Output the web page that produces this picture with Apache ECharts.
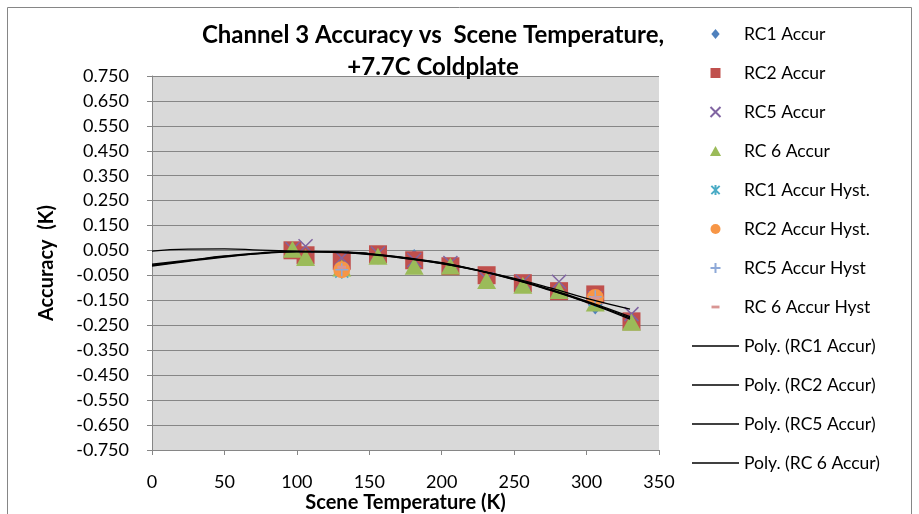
<!DOCTYPE html>
<html>
<head>
<meta charset="utf-8">
<script src="https://cdn.jsdelivr.net/npm/echarts@6/dist/echarts.min.js"></script>
<style>html,body{margin:0;padding:0;background:#fff;overflow:hidden;}#c{width:919px;height:514px;}</style>
</head>
<body>
<div id="c"></div>
<script>
// ---- data ----
const yTickMin = -0.75, yTickMax = 0.75, yTickStep = 0.1;
const xTickMin = 0, xTickMax = 350, xTickStep = 50;

const rc1Accur = [[97,0.050],[106,0.030],[131,0.010],[156,0.020],[181,0.030],[206,-0.010],[231,-0.050],[256,-0.080],[281,-0.110],[306,-0.180],[331,-0.230]];
const rc2Accur = [[97,0.051],[106,0.031],[131,0.009],[156,0.035],[181,0.011],[206,-0.013],[231,-0.049],[256,-0.081],[281,-0.113],[306,-0.126],[331,-0.234]];
const rc5Accur = [[97,0.055],[106,0.067],[131,0.020],[156,0.038],[181,0.012],[206,0.000],[231,-0.065],[256,-0.075],[281,-0.075],[306,-0.140],[331,-0.205]];
const rc6Accur = [[97,0.055],[106,0.022],[131,-0.020],[156,0.027],[181,-0.013],[206,-0.012],[231,-0.070],[256,-0.089],[281,-0.110],[306,-0.160],[331,-0.238]];
const rc1Hyst = [[131,-0.037],[306,-0.150]];
const rc2Hyst = [[131,-0.027],[306,-0.138]];
const rc5Hyst = [[131,-0.027],[306,-0.135]];
const rc6Hyst = [[131,-0.017],[306,-0.140]];

const trendX = [0,25,50,75,100,125,150,175,200,225,250,275,300,330];
const trendRC1 = [-0.005,0.011,0.028,0.041,0.047,0.046,0.038,0.021,0.001,-0.029,-0.064,-0.106,-0.153,-0.215];
const trendRC2 = [-0.009,0.009,0.026,0.039,0.046,0.045,0.037,0.020,0.000,-0.030,-0.066,-0.108,-0.156,-0.220];
const trendRC5 = [0.048,0.056,0.057,0.052,0.048,0.043,0.034,0.018,-0.002,-0.030,-0.062,-0.100,-0.142,-0.185];
const trendRC6 = [-0.012,0.007,0.024,0.038,0.045,0.044,0.036,0.019,-0.002,-0.031,-0.067,-0.110,-0.158,-0.225];

const FONT = 'Lato';
const pair = (xs, ys) => xs.map((x, i) => [x, ys[i]]);

const DIAMOND = 'path://M5,0L10,6L5,12L0,6Z';
const SQUARE = 'path://M0,0H10V10H0Z';
const TRIANGLE = 'path://M5,0L10,9L0,9Z';
const CIRCLE = 'path://M10,5A5,5,0,1,1,0,5A5,5,0,1,1,10,5Z';
const X_PATH = 'path://M0,0L10,10M10,0L0,10';
const STAR_PATH = 'path://M0,0L10,10M10,0L0,10M5,-1L5,11';
const PLUS_PATH = 'path://M5,0L5,10M0,5L10,5';
const DASH = 'path://M0,0M10,10M1,3.6H9V6.4H1Z';
const LINE_ICON = 'path://M0,0H47V1.3H0Z';

function sc(name, data, symbol, size, color, stroke) {
  const it = stroke ? { color: color, borderColor: color, borderWidth: 1.5, opacity: 1 } : { color: color, opacity: 1 };
  return {
    name, type: 'scatter', data, symbol, symbolSize: size,
    itemStyle: it, emphasis: { disabled: true }, z: 2
  };
}
function tl(name, ys) {
  return {
    name, type: 'line', data: pair(trendX, ys), smooth: true, showSymbol: false, symbol: 'none',
    lineStyle: { color: '#000', width: 1.3 }, itemStyle: { color: '#000' },
    emphasis: { disabled: true }, z: 5
  };
}

const chart = echarts.init(document.getElementById('c'), null, { width: 919, height: 514 });
chart.setOption({
  animation: false,
  backgroundColor: '#fff',
  textStyle: { fontFamily: FONT },
  title: {
    text: 'Channel 3 Accuracy vs  Scene Temperature,\n+7.7C Coldplate',
    left: 428, top: 14, textAlign: 'center',
    textStyle: { fontFamily: FONT, fontWeight: 'bold', fontSize: 24, lineHeight: 32, color: '#000' }
  },
  graphic: [{
    type: 'rect', shape: { x: 7.5, y: 7.5, width: 904, height: 520 },
    style: { fill: 'none', stroke: '#868686', lineWidth: 1 }, silent: true, z: -1
  }],
  legend: {
    orient: 'vertical', left: 692, top: 25, padding: 0,
    itemWidth: 47, itemHeight: 10, itemGap: 21,
    textStyle: { fontFamily: FONT, fontSize: 17.5, color: '#000' },
    data: [
      'RC1 Accur','RC2 Accur','RC5 Accur','RC 6 Accur','RC1 Accur Hyst.','RC2 Accur Hyst.','RC5 Accur Hyst','RC 6 Accur Hyst',
      { name: 'Poly. (RC1 Accur)', icon: LINE_ICON },
      { name: 'Poly. (RC2 Accur)', icon: LINE_ICON },
      { name: 'Poly. (RC5 Accur)', icon: LINE_ICON },
      { name: 'Poly. (RC 6 Accur)', icon: LINE_ICON }
    ]
  },
  grid: { left: 152, right: 260, top: 76, bottom: 64, show: true, backgroundColor: '#d9d9d9', borderWidth: 0,
          outerBoundsMode: 'none', containLabel: false },
  xAxis: {
    type: 'value', min: xTickMin, max: xTickMax, interval: xTickStep,
    name: 'Scene Temperature (K)', nameLocation: 'middle', nameGap: 43, nameMoveOverlap: false,
    nameTextStyle: { fontFamily: FONT, fontWeight: 'bold', fontSize: 20, color: '#000' },
    axisLine: { show: true, onZero: false, lineStyle: { color: '#868686', width: 1 } },
    axisTick: { show: true, inside: false, length: 5, lineStyle: { color: '#868686' } },
    axisLabel: { fontFamily: FONT, fontSize: 18, color: '#000', margin: 23 },
    splitLine: { show: false }
  },
  yAxis: {
    type: 'value', min: yTickMin, max: yTickMax, interval: yTickStep,
    name: 'Accuracy  (K)', nameLocation: 'middle', nameGap: 95, nameRotate: 90, nameMoveOverlap: false,
    nameTextStyle: { fontFamily: FONT, fontWeight: 'bold', fontSize: 20, color: '#000' },
    axisLine: { show: true, lineStyle: { color: '#868686', width: 1 } },
    axisTick: { show: true, inside: false, length: 5, lineStyle: { color: '#868686' } },
    axisLabel: { fontFamily: FONT, fontSize: 18, color: '#000', margin: 23,
      formatter: v => (Math.round(v * 1000) / 1000).toFixed(3) },
    splitLine: { show: true, lineStyle: { color: '#868686', width: 1 } }
  },
  series: [
    sc('RC1 Accur', rc1Accur, DIAMOND, [11, 13], '#4F81BD'),
    sc('RC2 Accur', rc2Accur, SQUARE, 18, '#C0504D'),
    sc('RC5 Accur', rc5Accur, X_PATH, 14, '#8064A2', true),
    sc('RC 6 Accur', rc6Accur, TRIANGLE, [19, 17], '#9BBB59'),
    sc('RC1 Accur Hyst.', rc1Hyst, STAR_PATH, 13, '#4BACC6', true),
    sc('RC2 Accur Hyst.', rc2Hyst, CIRCLE, 17, '#F79646'),
    sc('RC5 Accur Hyst', rc5Hyst, PLUS_PATH, 13, '#8EA9D8', true),
    sc('RC 6 Accur Hyst', rc6Hyst, DASH, 11, '#D99694'),
    tl('Poly. (RC1 Accur)', trendRC1),
    tl('Poly. (RC2 Accur)', trendRC2),
    tl('Poly. (RC5 Accur)', trendRC5),
    tl('Poly. (RC 6 Accur)', trendRC6)
  ]
});
</script>
</body>
</html>
